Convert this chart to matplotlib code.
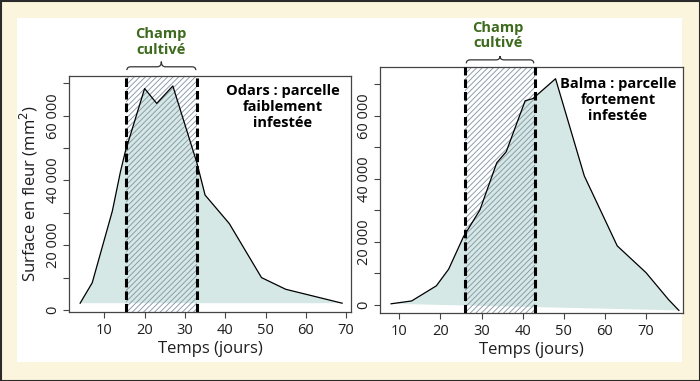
import matplotlib
matplotlib.use("Agg")
import matplotlib.pyplot as plt
from matplotlib.patches import Rectangle, PathPatch
from matplotlib.path import Path
import matplotlib.transforms as mtransforms
from matplotlib.ticker import FixedLocator, FuncFormatter

plt.rcParams['font.family'] = ['Open Sans', 'DejaVu Sans']
plt.rcParams['hatch.linewidth'] = 0.65

# ---- data ----
odars_days = [4, 7, 12, 14, 15.2, 20, 23, 27, 33, 35, 41, 49, 55, 69]
odars_surface = [2100, 8400, 30600, 42700, 48900, 68400, 63800, 69200, 45300, 35500, 26700, 10000, 6400, 2100]
odars_field = [15.3, 33.0]

balma_days = [8, 13, 19, 22, 25.6, 29.6, 33.7, 36, 40.6, 42.5, 48, 55, 63, 70, 75.5, 78]
balma_surface = [300, 1200, 6000, 11300, 21600, 30100, 45100, 48600, 64800, 65500, 71800, 40900, 18700, 10200, 1600, -1800]
balma_field = [26.0, 43.0]

xticks = [10, 20, 30, 40, 50, 60, 70]
yticks = [0, 10000, 20000, 30000, 40000, 50000, 60000, 70000]
ylabels_shown = [0, 20000, 40000, 60000]

titles = ["Odars : parcelle\nfaiblement\ninfestée", "Balma : parcelle\nfortement\ninfestée"]
field_label = "Champ\ncultivé"

FILL = "#d5e8e6"
HATCH = "#8798a6"
GREEN = "#3d6a1c"
TXT = "#1e1e1e"

fig = plt.figure(figsize=(7.0, 3.81), dpi=100, facecolor="#fcf5dd")
# white panel
fig.patches.append(Rectangle((17/700, 1-362/381), 665/700, 344/381, transform=fig.transFigure,
                             facecolor="white", edgecolor="none", zorder=-10))
# outer border
fig.patches.append(Rectangle((0.5/700, 0.5/381), 699/700, 380/381, transform=fig.transFigure,
                             facecolor="none", edgecolor="#2a2a2a", linewidth=1.5, zorder=-9))

axL = fig.add_axes([69/700, 1-312/381, 282/700, 236/381])
axR = fig.add_axes([380/700, 1-313/381, 303/700, 246/381])

def fmt(v, pos):
    v = int(round(v))
    if v not in ylabels_shown:
        return ""
    if v == 0:
        return "0"
    return f"{v:,}".replace(",", " ")

def brace(ax, x0, x1, yb, yh, yt):
    tr = mtransforms.blended_transform_factory(ax.transData, ax.transAxes)
    xm = (x0 + x1) / 2
    r = (x1 - x0) * 0.06
    verts = [(x0, yb), (x0, yh), (x0 + r, yh),
             (xm - r, yh), (xm, yh), (xm, yt),
             (xm, yh), (xm + r, yh),
             (x1 - r, yh), (x1, yh), (x1, yb)]
    codes = [Path.MOVETO, Path.CURVE3, Path.CURVE3,
             Path.LINETO, Path.CURVE3, Path.CURVE3,
             Path.CURVE3, Path.CURVE3,
             Path.LINETO, Path.CURVE3, Path.CURVE3]
    p = PathPatch(Path(verts, codes), transform=tr, facecolor="none",
                  edgecolor="#333333", linewidth=0.9, clip_on=False)
    ax.add_patch(p)

def panel(ax, days, surf, field, xlim, ylim, title, title_xy, lab_xy, brace_y, ylabel):
    ax.fill(days, surf, color=FILL, linewidth=0, zorder=1)
    ax.add_patch(Rectangle((field[0], ylim[0]), field[1]-field[0], ylim[1]-ylim[0],
                           facecolor="none", edgecolor=HATCH, hatch="//////", linewidth=0, zorder=2))
    ax.plot(days, surf, color="black", linewidth=0.9, zorder=3)
    for xv in field:
        ax.axvline(xv, color="black", linewidth=2.2, dashes=(2.8, 1.3), zorder=4)
    ax.set_xlim(*xlim)
    ax.set_ylim(*ylim)
    ax.xaxis.set_major_locator(FixedLocator(xticks))
    ax.yaxis.set_major_locator(FixedLocator(yticks))
    ax.yaxis.set_major_formatter(FuncFormatter(fmt))
    ax.tick_params(axis="both", direction="out", length=4, width=0.8, colors="#444444",
                   labelsize=10.5, labelcolor=TXT)
    ax.tick_params(axis="x", pad=4)
    ax.tick_params(axis="y", pad=2)
    for lbl in ax.get_yticklabels():
        lbl.set_rotation(90)
        lbl.set_va("center")
    for s in ax.spines.values():
        s.set_linewidth(0.9)
        s.set_color("#444444")
    ax.set_xlabel("Temps (jours)", fontsize=12, color=TXT, labelpad=2)
    if ylabel:
        ax.set_ylabel("Surface en fleur (mm$^2$)", fontsize=12, color=TXT, labelpad=4)
    ax.text(title_xy[0], title_xy[1], title, transform=mtransforms.blended_transform_factory(ax.transData, ax.transAxes),
            ha="center", va="center", fontsize=10.5, fontweight="bold", color="black",
            linespacing=1.2, zorder=5)
    ax.text(lab_xy[0], lab_xy[1], field_label, transform=mtransforms.blended_transform_factory(ax.transData, ax.transAxes),
            ha="center", va="center", fontsize=10.5, fontweight="bold", color=GREEN,
            linespacing=1.15, clip_on=False)
    brace(ax, field[0] + 0.3, field[1] - 0.3, *brace_y)

panel(axL, odars_days, odars_surface, odars_field, (1.24, 71.2), (-620, 72270),
      titles[0], (54.3, 0.869), (24.0, 1.144), (1.025, 1.039, 1.061), True)
panel(axR, balma_days, balma_surface, balma_field, (5.3, 79.0), (-2630, 75530),
      titles[1], (63.2, 0.866), (34.0, 1.128), (1.015, 1.029, 1.044), False)

fig.savefig("out.png", dpi=100, facecolor=fig.get_facecolor())
